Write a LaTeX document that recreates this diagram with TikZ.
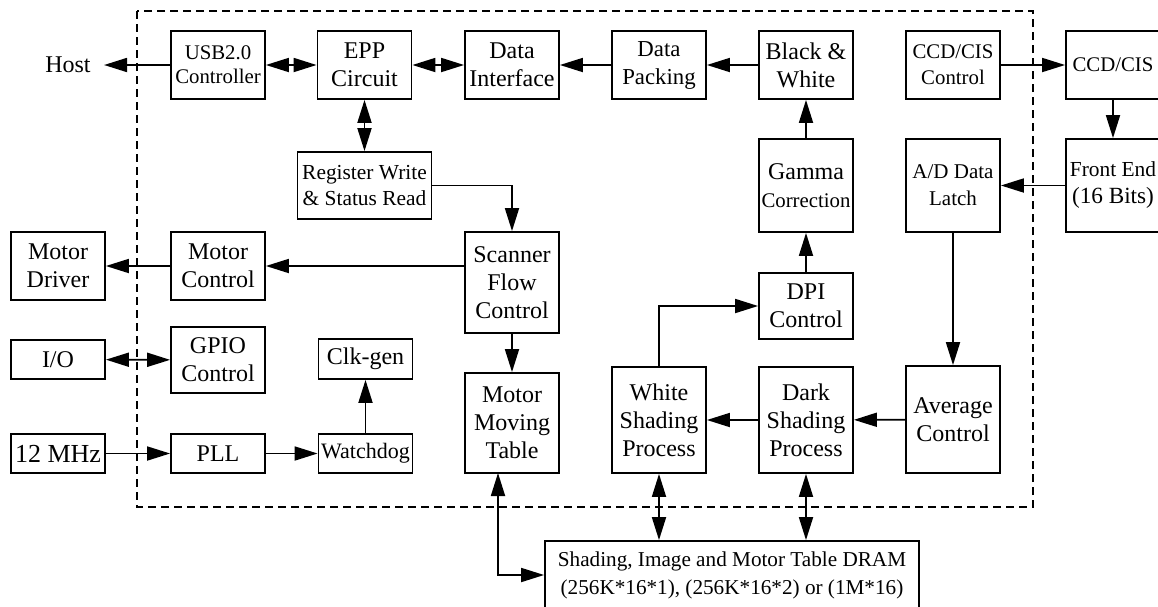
\documentclass[tikz,border=0pt]{standalone}
\usepackage{fontspec}
\setmainfont{Liberation Serif}
\usetikzlibrary{arrows.meta}
\tikzset{
  blk/.style={draw, line width=0.9pt, inner sep=0pt, align=center,
    minimum width=47pt, minimum height=34pt, font=\fontsize{12}{14}\selectfont},
  sig/.style={line width=0.9pt, -{Triangle[length=11.5pt,width=7pt]}},
  bus/.style={line width=0.9pt, {Triangle[length=11.5pt,width=7pt]}-{Triangle[length=11.5pt,width=7pt]}},
}
\newcommand{\smallfnt}{\fontsize{10.7}{13}\selectfont}
\newcommand{\narrowfnt}{\fontsize{10.4}{13}\selectfont}
\begin{document}
\begin{tikzpicture}[x=0.5pt,y=-0.5pt]
      \clip (0,0) rectangle (1158,606);
      %Chip border
      \draw[line width=0.9pt, dash pattern=on 4pt off 2.5pt] (137,11) rectangle (1033,507);
      %Top row
      \node[font=\fontsize{12}{14}\selectfont, inner xsep=6.5pt] (host) at (68,65) {Host};
      \node[blk, font=\fontsize{10.4}{12}\selectfont] (usb) at (218,65) {USB2.0\\Controller};
      \node[blk] (epp) at (364.5,65) {EPP\\Circuit};
      \node[blk] (dif) at (512,65) {Data\\Interface};
      \node[blk, font=\fontsize{11.4}{14}\selectfont] (dpk) at (659,65) {Data\\Packing};
      \node[blk] (bw) at (806,65) {Black \&\\White};
      \node[blk, font=\narrowfnt] (ccdctl) at (953,65) {CCD/CIS\\Control};
      \node[blk, font=\narrowfnt] (ccd) at (1113,65) {CCD/CIS};
      %Second row
      \node[blk, minimum width=67pt, minimum height=33.5pt, font=\smallfnt] (reg) at (364.5,185.5) {Register Write\\\& Status Read};
      \node[blk, minimum height=46.5pt] (gam) at (806,185.5) {Gamma\\{\fontsize{10.4}{13}\selectfont Correction}};
      \node[blk, minimum height=46.5pt, font=\fontsize{10.5}{13.5}\selectfont] (adl) at (953,185.5) {A/D Data\\Latch};
      \node[blk, minimum height=46.5pt, font=\fontsize{11.6}{13.5}\selectfont] (fe) at (1113,185.5) {{\smallfnt Front End}\\(16 Bits)};
      %Left column
      \node[blk] (mdrv) at (58,266) {Motor\\Driver};
      \node[blk] (mctl) at (218,266) {Motor\\Control};
      \node[blk, minimum height=19.5pt] (io) at (58,359.5) {I/O};
      \node[blk, minimum height=33pt] (gpio) at (218,360) {GPIO\\Control};
      \node[blk, minimum height=20pt] (clk) at (365.5,359) {Clk-gen};
      \node[blk, minimum height=19.5pt, font=\fontsize{13}{14}\selectfont] (mhz) at (58,453.5) {12 MHz};
      \node[blk, minimum height=19.5pt] (pll) at (218,453.5) {PLL};
      \node[blk, minimum height=19.5pt, font=\fontsize{11}{13}\selectfont] (wdg) at (365.5,453.5) {Watchdog};
      %Middle
      \node[blk, minimum height=50.5pt] (scf) at (512,282.5) {Scanner\\Flow\\Control};
      \node[blk, minimum height=50pt] (mmt) at (512,423) {Motor\\Moving\\Table};
      \node[blk, minimum height=33pt] (dpi) at (806,306) {DPI\\Control};
      \node[blk, minimum height=53pt] (wsp) at (659,420) {White\\Shading\\Process};
      \node[blk, minimum height=53pt] (dsp) at (806,420) {Dark\\Shading\\Process};
      \node[blk, minimum height=53.5pt] (avg) at (953,419.5) {Average\\Control};
      %Memory
      \node[blk, minimum width=187pt, font=\fontsize{10.6}{14}\selectfont] (dram) at (732,575) {Shading, Image and Motor Table DRAM\\(256K*16*1), (256K*16*2) or (1M*16)};
      \coordinate (mmtb) at (498,473);

      %Data path
      \draw[sig] (usb) -- (host);
      \draw[bus] (usb) -- (epp);
      \draw[bus] (epp) -- (dif);
      \draw[sig] (dpk) -- (dif);
      \draw[sig] (bw) -- (dpk);
      \draw[sig] (gam) -- (bw);
      \draw[sig] (dpi) -- (gam);
      \draw[sig] (wsp.north) |- (dpi.west);
      \draw[sig] (dsp) -- (wsp);
      \draw[sig] (avg) -- (dsp);
      \draw[sig] (adl) -- (avg);
      \draw[sig] (fe) -- (adl);
      \draw[sig] (ccd) -- (fe);
      \draw[sig] (ccdctl) -- (ccd);
      %Control path
      \draw[bus] (epp) -- (reg);
      \draw[sig] (reg.east) -| (scf.north);
      \draw[sig] (scf.west |- mctl) -- (mctl);
      \draw[sig] (mctl) -- (mdrv);
      \draw[sig] (scf) -- (mmt);
      \draw[bus] (io) -- (gpio);
      \draw[sig] (mhz) -- (pll);
      \draw[sig] (pll) -- (wdg);
      \draw[sig] (wdg) -- (clk);
      %DRAM links
      \draw[bus] (mmtb) |- (dram.west);
      \draw[bus] (wsp.south) -- (wsp.south |- dram.north);
      \draw[bus] (dsp.south) -- (dsp.south |- dram.north);
  \end{tikzpicture}
\end{document}
